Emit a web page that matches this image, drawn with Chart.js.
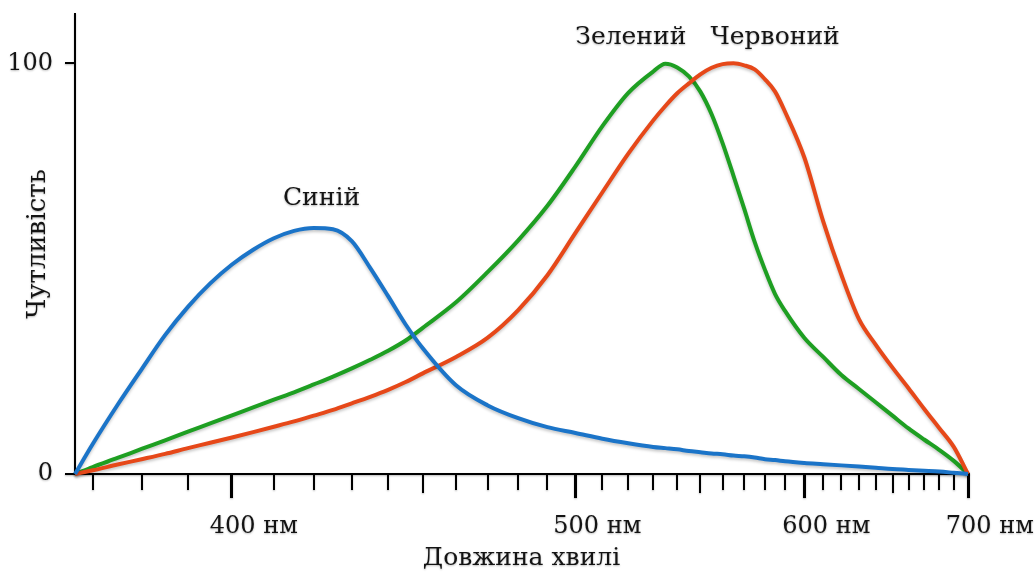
<!DOCTYPE html>
<html>
<head>
<meta charset="utf-8">
<script src="https://cdn.jsdelivr.net/npm/chart.js@4.4.1/dist/chart.umd.min.js"></script>
<style>
  html, body { margin: 0; padding: 0; background: #fff; }
  #wrap { width: 1036px; height: 573px; }
</style>
</head>
<body>
<div id="wrap"><canvas id="sensitivity"></canvas></div>
<script>
(function(){
    // wavelength samples, nm
    const wavelengths = [366.5, 370, 375, 380, 385, 390, 395, 400, 405, 410, 415, 420, 425, 430, 435, 440, 445, 450,
        460, 470, 480, 490, 500, 510, 520, 530, 535, 540, 545, 550, 555, 560, 565, 570, 575, 580, 585, 590,
        600, 610, 620, 630, 640, 650, 660, 670, 680, 690, 700];

    // sensitivity of the three cone types
    const blue = [0, 7.3, 16.8, 25.5, 33.8, 40.7, 46.4, 51.0, 54.6, 57.4, 59.2, 59.9, 59.6, 56.7, 50.2, 43.3, 36.4, 30.6,
        21.6, 16.7, 13.6, 11.4, 10.0, 8.6, 7.5, 6.6, 6.3, 6.0, 5.6, 5.3, 5.0, 4.8, 4.5, 4.3, 4.0, 3.6, 3.4, 3.1,
        2.7, 2.4, 2.1, 1.8, 1.5, 1.2, 1.0, 0.8, 0.6, 0.3, 0];
    const green = [0, 1.7, 3.9, 6.1, 8.2, 10.3, 12.3, 14.3, 16.2, 18.1, 19.9, 21.8, 23.7, 25.7, 27.8, 30.0, 32.5, 35.6,
        41.8, 49.2, 56.9, 65.3, 74.9, 84.7, 92.8, 98.0, 99.9, 99.0, 96.8, 93.1, 87.6, 80.5, 72.6, 64.6, 56.5, 49.7, 43.8, 39.7,
        33.1, 28.5, 24.1, 20.7, 17.4, 14.2, 11.1, 8.4, 5.9, 3.2, 0];
    const red = [0, 0.9, 2.3, 3.6, 4.9, 6.3, 7.6, 8.9, 10.2, 11.5, 12.8, 14.2, 15.6, 17.2, 18.8, 20.5, 22.4, 24.5,
        28.5, 33.2, 39.9, 48.4, 58.7, 68.6, 78.0, 86.1, 89.6, 92.7, 95.1, 97.3, 98.9, 99.8, 100, 99.5, 98.5, 96.1, 93.1, 88.2,
        77.0, 61.5, 48.5, 37.7, 31.4, 25.9, 20.9, 15.9, 11.2, 6.6, 0];

    // axis ticks
    const majorTicks = [400, 500, 600, 700];
    const tickLabels = ['400 нм', '500 нм', '600 нм', '700 нм'];
    const halfTicks = [450, 550, 650];
    const minorTicks = [370, 380, 390, 410, 420, 430, 440, 460, 470, 480, 490, 510, 520, 530, 540, 560, 570, 580, 590,
        610, 620, 630, 640, 660, 670, 680, 690];
    const yTicks = [0, 100];

    const curveNames = ['Синій', 'Зелений', 'Червоний'];
    const curveLabels = [
        {text: curveNames[0], wavelength: 422, value: 67},
        {text: curveNames[1], wavelength: 521, value: 106.3},
        {text: curveNames[2], wavelength: 585, value: 106.3}
    ];

    // x axis is drawn in 1/wavelength so the spacing matches the picture
    const toWave = (nm) => 1e6 / nm;
    const points = (values) => values.map((v, i) => ({x: toWave(wavelengths[i]), y: v}));

    const serif = '"DejaVu Serif", "Liberation Serif", serif';
    const ink = '#141414';
    const xMin = toWave(700);
    const xMax = toWave(366.5);

    const noPad = (scale) => {
        scale.paddingLeft = 0; scale.paddingRight = 0;
        scale.paddingTop = 0; scale.paddingBottom = 0;
    };

    const tickAxis = (list, len, width) => ({
        type: 'linear',
        reverse: true,
        min: xMin,
        max: xMax,
        position: {y: 0},
        afterBuildTicks: (scale) => { scale.ticks = list.map(w => ({value: toWave(w)})); },
        afterFit: noPad,
        ticks: {display: false},
        border: {display: false},
        grid: {drawOnChartArea: false, drawTicks: true, tickLength: len, color: '#000', lineWidth: width}
    });

    const setShadow = (c, alpha, blur, dy) => {
        c.shadowColor = 'rgba(0,0,0,' + alpha + ')';
        c.shadowBlur = blur;
        c.shadowOffsetY = dy;
    };

    // soft drop shadow like the printed figure: axes/text first, then the curves
    const shadows = {
        id: 'shadows',
        beforeDraw(chart){
            chart.ctx.save();
            setShadow(chart.ctx, 0.28, 2, 1);
        },
        beforeDatasetsDraw(chart){
            chart.ctx.restore();
            chart.ctx.save();
            setShadow(chart.ctx, 0.22, 3, 2);
        },
        afterDatasetsDraw(chart){
            chart.ctx.restore();
        }
    };

    const curveText = {
        id: 'curveText',
        afterDraw(chart){
            const c = chart.ctx;
            const xs = chart.scales.x, ys = chart.scales.y;
            c.save();
            c.font = '25px ' + serif;
            c.fillStyle = ink;
            c.textAlign = 'center';
            c.textBaseline = 'middle';
            setShadow(c, 0.3, 2, 1);
            curveLabels.forEach(l => {
                c.fillText(l.text, xs.getPixelForValue(toWave(l.wavelength)), ys.getPixelForValue(l.value));
            });
            c.restore();
        }
    };

    const ctx = document.getElementById('sensitivity').getContext('2d');

    const chart = new Chart(ctx, {
        type: 'line',
        data: {
            datasets: [
                {label: curveNames[0], data: points(blue), borderColor: '#1b74c8'},
                {label: curveNames[2], data: points(red), borderColor: '#e64819'},
                {label: curveNames[1], data: points(green), borderColor: '#1e9f22'}
            ]
        },
        options: {
            responsive: true,
            maintainAspectRatio: false,
            animation: false,
            layout: {padding: {top: 14, right: 68, left: 0, bottom: 0}},
            elements: {
                line: {borderWidth: 4, cubicInterpolationMode: 'monotone', fill: false},
                point: {radius: 0, hoverRadius: 0}
            },
            datasets: {line: {clip: false}},
            plugins: {legend: {display: false}, tooltip: {enabled: false}},
            scales: {
                x: {
                    type: 'linear',
                    reverse: true,
                    min: xMin,
                    max: xMax,
                    position: 'bottom',
                    afterBuildTicks: (scale) => { scale.ticks = majorTicks.map(w => ({value: toWave(w)})); },
                    afterFit: (scale) => { scale.height = 99; noPad(scale); },
                    ticks: {
                        autoSkip: false,
                        maxRotation: 0,
                        padding: 14,
                        color: ink,
                        font: {family: serif, size: 24},
                        callback: (v, i) => '\u2002\u2002\u2002 ' + tickLabels[i]
                    },
                    border: {display: true, color: '#000', width: 2},
                    grid: {drawOnChartArea: false, drawTicks: true, tickLength: 24, color: '#000', lineWidth: 3},
                    title: {
                        display: true,
                        text: 'Довжина хвилі',
                        color: ink,
                        font: {family: serif, size: 25, lineHeight: 1.2},
                        padding: {top: 0, bottom: 0}
                    }
                },
                xHalf: tickAxis(halfTicks, 19, 2),
                xMinor: tickAxis(minorTicks, 16, 2),
                y: {
                    type: 'linear',
                    min: 0,
                    max: 112,
                    afterBuildTicks: (scale) => { scale.ticks = yTicks.map(v => ({value: v})); },
                    afterFit: (scale) => { scale.width = 75; noPad(scale); },
                    ticks: {
                        padding: 12,
                        color: ink,
                        font: {family: serif, size: 24}
                    },
                    border: {display: true, color: '#000', width: 2},
                    grid: {drawOnChartArea: false, drawTicks: true, tickLength: 10, color: '#000', lineWidth: 2},
                    title: {
                        display: true,
                        text: 'Чутливість',
                        color: ink,
                        font: {family: serif, size: 26, lineHeight: 1.2},
                        padding: {top: 23, bottom: 0}
                    }
                }
            }
        },
        plugins: [shadows, curveText]
    });
}())
</script>
</body>
</html>
